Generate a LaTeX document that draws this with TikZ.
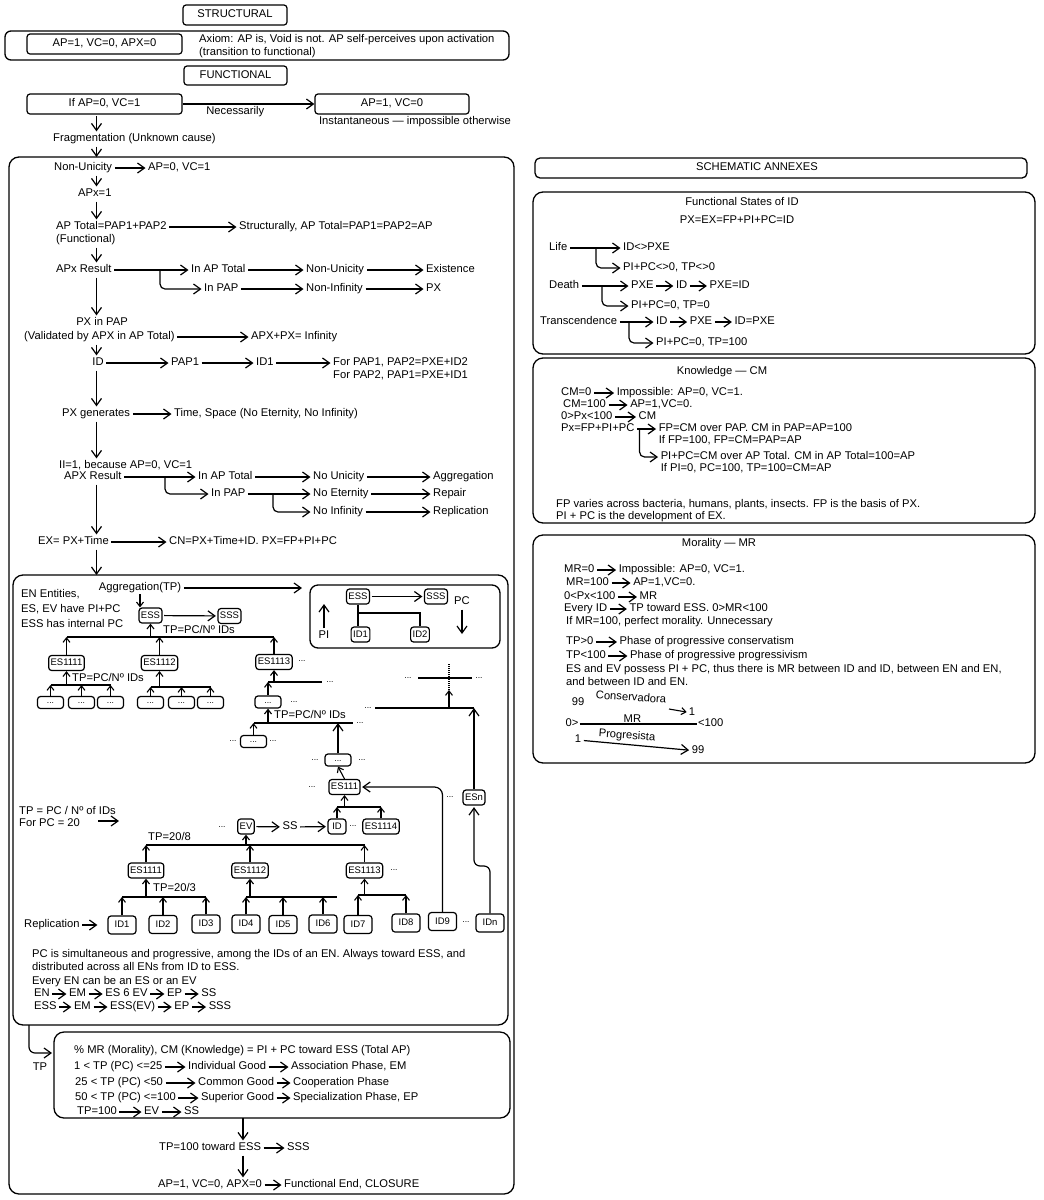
\documentclass[tikz,border=0pt]{standalone}
\usepackage{fontspec}
\setmainfont{Liberation Sans}
\usetikzlibrary{arrows.meta,positioning}

\tikzset{
  txt/.style={anchor=west, inner sep=1pt, text height=7.8pt, text depth=2pt},
  ctxt/.style={inner sep=1pt, text height=7.8pt, text depth=2pt},
  more/.style={inner sep=1pt, font=\fontsize{8.5}{9}\selectfont},
  box/.style={draw, line width=1.2pt, rounded corners=3pt, inner sep=2pt, text height=7.8pt, text depth=2pt},
  idbox/.style={box, font=\fontsize{9.5}{10}\selectfont, text height=6.8pt, text depth=1.5pt, minimum height=15pt},
  idrow/.style={idbox, minimum width=28pt, minimum height=18pt},
  dotbox/.style={box, font=\fontsize{8.5}{9}\selectfont, text height=2pt, text depth=0pt, minimum width=26pt, minimum height=12pt},
  frame/.style={draw, line width=1.3pt, rounded corners=10pt},
  arr/.style={line width=1.2pt, -{Straight Barb[length=7pt, width=10pt]}, shorten >=1.5pt, shorten <=1.5pt},
  tip/.style={line width=1.1pt, -{Straight Barb[length=4.5pt, width=7pt]}},
  bus/.style={line width=1.6pt}
}

\begin{document}
\begin{tikzpicture}[x=1pt, y=-1pt, font=\fontsize{11.2}{12}\selectfont]

        \useasboundingbox (0,0) rectangle (1044,1200);

        % Strukturell
        \node [box, minimum width=104pt, minimum height=20pt] (struct) at (235,15) {STRUCTURAL};
        \draw [frame, rounded corners=6pt] (5,31) rectangle (509,60);
        \node [box, minimum width=155pt, minimum height=20pt] (axbox) at (104.5,44) {AP=1, VC=0, APX=0};
        \node [txt] (axiom) at (198,40) {Axiom: AP is, Void is not. AP self-perceives upon activation};
        \node [txt] (axiomb) at (198,53) {(transition to functional)};

        % Funktional
        \node [box, minimum width=103pt, minimum height=19pt] (func) at (235.5,75.5) {FUNCTIONAL};
        \node [box, minimum width=155pt, minimum height=20pt] (ifap) at (104.5,104) {If AP=0, VC=1};
        \node [box, minimum width=154pt, minimum height=20pt] (apone) at (392,104) {AP=1, VC=0};
        \draw [arr, shorten <=0pt, shorten >=0pt] (ifap) -- (apone) node [ctxt, pos=0.4, below=1pt] (necess) {Necessarily};
        \node [ctxt] (instant) at (415,122) {Instantaneous — impossible otherwise};

        \coordinate (col) at (96.5,0);
        \node [txt] (frag) at (52,139) {Fragmentation (Unknown cause)};
        \draw [arr] (ifap.south -| col) -- (frag.north -| col);
        \coordinate (ftop) at (96.5,157);
        \draw [arr, shorten >=0pt] (frag.south -| col) -- (ftop);

        % grosser Rahmen
        \draw [frame] (9,157) rectangle (514,1194);

        \node [txt] (nonun) at (53,168) {Non-Unicity};
        \node [txt] (apzero) at (147,168) {AP=0, VC=1};
        \draw [arr] (nonun) -- (apzero);
        \node [txt] (apx) at (77,194) {APx=1};
        \draw [arr] (nonun.south -| col) -- (apx.north -| col);

        \node [txt] (aptot) at (55,227) {AP Total=PAP1+PAP2};
        \node [txt] (functl) at (55,240) {(Functional)};
        \node [txt] (structly) at (238,227) {Structurally, AP Total=PAP1=PAP2=AP};
        \draw [arr] (apx.south -| col) -- (aptot.north -| col);
        \draw [arr] (aptot) -- (structly);

        \node [txt] (apxres) at (55,270) {APx Result};
        \draw [arr] (functl.south -| col) -- (apxres.north -| col);
        \node [txt] (inaptot) at (190,270) {In AP Total};
        \node [txt] (nonunb) at (305,270) {Non-Unicity};
        \node [txt] (exist) at (425,270) {Existence};
        \draw [arr] (apxres) -- (inaptot);
        \draw [arr] (inaptot) -- (nonunb);
        \draw [arr] (nonunb) -- (exist);
        \coordinate (brA) at (160,270);
        \node [txt] (inpap) at (203,289) {In PAP};
        \node [txt] (noninf) at (305,289) {Non-Infinity};
        \node [txt] (pxa) at (425,289) {PX};
        \draw [arr, rounded corners=5pt, shorten <=0pt] (brA) |- (inpap.west);
        \draw [arr] (inpap) -- (noninf);
        \draw [arr] (noninf) -- (pxa);

        \node [ctxt] (pxpap) at (102,323) {PX in PAP};
        \node [txt] (valid) at (23,337) {(Validated by APX in AP Total)};
        \node [txt] (infty) at (250,337) {APX+PX= Infinity};
        \draw [arr] (apxres.south -| col) -- (pxpap.north -| col);
        \draw [arr] (valid) -- (infty);

        \node [ctxt] (idm) at (98,363) {ID};
        \node [txt] (papone) at (170,363) {PAP1};
        \node [txt] (idone) at (255,363) {ID1};
        \node [txt] (forpa) at (332,363) {For PAP1, PAP2=PXE+ID2};
        \node [txt] (forpb) at (332,376) {For PAP2, PAP1=PXE+ID1};
        \draw [arr] (valid.south -| col) -- (idm.north -| col);
        \draw [arr] (idm) -- (papone);
        \draw [arr] (papone) -- (idone);
        \draw [arr] (idone) -- (forpa);

        \node [txt] (pxgen) at (61,414) {PX generates};
        \node [txt] (tspace) at (173,414) {Time, Space (No Eternity, No Infinity)};
        \draw [arr] (idm.south -| col) -- (pxgen.north -| col);
        \draw [arr] (pxgen) -- (tspace);

        \node [txt] (iione) at (58,466) {II=1, because AP=0, VC=1};
        \node [txt] (apxresb) at (63,477) {APX Result};
        \draw [arr] (pxgen.south -| col) -- (iione.north -| col);
        \node [txt] (inaptotb) at (197,477) {In AP Total};
        \node [txt] (nouni) at (312,477) {No Unicity};
        \node [txt] (aggr) at (432,477) {Aggregation};
        \draw [arr] (apxresb) -- (inaptotb);
        \draw [arr] (inaptotb) -- (nouni);
        \draw [arr] (nouni) -- (aggr);
        \coordinate (brB) at (165,477);
        \node [txt] (inpapb) at (210,494) {In PAP};
        \node [txt] (noeter) at (312,494) {No Eternity};
        \node [txt] (repair) at (432,494) {Repair};
        \draw [arr, rounded corners=5pt, shorten <=0pt] (brB) |- (inpapb.west);
        \draw [arr] (inpapb) -- (noeter);
        \draw [arr] (noeter) -- (repair);
        \coordinate (brC) at (273,494);
        \node [txt] (noinf) at (312,512) {No Infinity};
        \node [txt] (replic) at (432,512) {Replication};
        \draw [arr, rounded corners=5pt, shorten <=0pt] (brC) |- (noinf.west);
        \draw [arr] (noinf) -- (replic);

        \node [txt] (expx) at (37,542) {EX= PX+Time};
        \node [txt] (cnpx) at (168,542) {CN=PX+Time+ID. PX=FP+PI+PC};
        \draw [arr] (apxresb.south -| col) -- (expx.north -| col);
        \draw [arr] (expx) -- (cnpx);
        \coordinate (agtop) at (96.5,575);
        \draw [arr, shorten >=0pt] (expx.south -| col) -- (agtop);

        % Aggregation
        \draw [frame] (13,575) rectangle (508,1025);
        \node [ctxt] (aggtp) at (140,588) {Aggregation(TP)};
        \coordinate (pcin) at (302,588);
        \draw [arr, shorten >=0pt] (aggtp) -- (pcin);
        \node [txt] (enent) at (20,595) {EN Entities,};
        \node [txt] (eshave) at (20,610) {ES, EV have PI+PC};
        \node [txt] (essint) at (20,625) {ESS has internal PC};
        \node [idbox] (ess) at (150.5,615.5) {ESS};
        \node [idbox] (sss) at (229.5,616) {SSS};
        \draw [tip] (aggtp.south) -- (aggtp.south |- ess.north);
        \draw [arr] (ess) -- (sss);

        % erste Ebene
        \coordinate (busa) at (0,637);
        \node [idbox] (esa) at (66.5,663) {ES1111};
        \node [idbox] (esb) at (159.5,663) {ES1112};
        \node [idbox] (esc) at (274,662) {ES1113};
        \node [more] (moa) at (302,661) {...};
        \foreach \kid in {esa,esb,esc}
            \draw [tip] (\kid.north) -- (\kid.north |- busa);
        \draw [bus] (esa.north |- busa) -- (esc.north |- busa);
        \draw [tip] (ess.south |- busa) -- (ess.south);
        \node [txt] (tpa) at (162,631) {TP=PC/Nº IDs};

        \coordinate (busb) at (0,685);
        \node [dotbox] (da) at (50.5,702.5) {...};
        \node [dotbox] (db) at (81.5,702.5) {...};
        \node [dotbox] (dc) at (110.5,702.5) {...};
        \foreach \kid in {da,db,dc}
            \draw [tip] (\kid.north) -- (\kid.north |- busb);
        \draw [bus] (da.north |- busb) -- (dc.north |- busb);
        \draw [tip] (esa.south |- busb) -- (esa.south);
        \node [txt] (tpb) at (71,679) {TP=PC/Nº IDs};

        \coordinate (busc) at (0,687);
        \node [dotbox] (dd) at (150.5,702.5) {...};
        \node [dotbox] (de) at (181.5,702.5) {...};
        \node [dotbox] (df) at (210.5,702.5) {...};
        \foreach \kid in {dd,de,df}
            \draw [tip] (\kid.north) -- (\kid.north |- busc);
        \draw [bus] (dd.north |- busc) -- (df.north |- busc);
        \draw [tip] (esb.south |- busc) -- (esb.south);

        \coordinate (busd) at (0,682);
        \coordinate (busde) at (322,682);
        \node [dotbox] (dg) at (268,702) {...};
        \node [more] (mob) at (294,702) {...};
        \node [more] (moc) at (330,682) {...};
        \draw [tip] (dg.north) -- (dg.north |- busd);
        \draw [bus] (dg.north |- busd) -- (busde);
        \draw [tip] (esc.south |- busd) -- (esc.south);

        \coordinate (buse) at (0,723);
        \coordinate (busee) at (353,723);
        \node [more] (mod) at (360,723) {...};
        \node [txt] (tpc) at (273,716) {TP=PC/Nº IDs};
        \node [dotbox] (dh) at (253.5,741.5) {...};
        \node [more] (moe) at (233,741) {...};
        \node [more] (mof) at (273,741) {...};
        \node [dotbox] (di) at (338,760) {...};
        \node [more] (mog) at (315,760) {...};
        \node [more] (moh) at (362,760) {...};
        \draw [tip] (dh.north) -- (dh.north |- buse);
        \draw [bus] (dh.north |- buse) -- (busee);
        \draw [tip] (dg.south |- buse) -- (dg.south);
        \draw [arr, shorten <=0pt, shorten >=0pt] (di.north) -- (di.north |- buse);

        \node [idbox] (esm) at (344.5,787) {ES111};
        \node [more] (moi) at (312,787) {...};
        \draw [tip] (esm.north) -- (di.south);

        \coordinate (busf) at (0,807);
        \node [idbox, minimum width=18pt] (idq) at (337,826.5) {ID};
        \node [more] (moj) at (353,826) {...};
        \node [idbox] (esq) at (381,826.5) {ES1114};
        \foreach \kid in {idq,esq}
            \draw [tip] (\kid.north) -- (\kid.north |- busf);
        \draw [bus] (idq.north |- busf) -- (esq.north |- busf);
        \draw [tip] (esm.south |- busf) -- (esm.south);

        \node [more] (mok) at (222,827) {...};
        \node [idbox] (ev) at (246,826.5) {EV};
        \node [ctxt] (ssq) at (290,827) {SS};
        \draw [arr] (ev) -- (ssq);
        \draw [arr] (ssq) -- (idq);

        % Beispiel PC = 20
        \node [txt] (tpform) at (18,812) {TP = PC / Nº of IDs};
        \node [txt] (forpc) at (18,824) {For PC = 20};
        \coordinate (forpcs) at (98,821);
        \coordinate (forpce) at (119,821);
        \draw [arr, shorten <=0pt, shorten >=0pt] (forpcs) -- (forpce);

        \coordinate (busg) at (0,845);
        \node [txt] (tpd) at (147,838) {TP=20/8};
        \node [idbox] (esd) at (146,870.5) {ES1111};
        \node [idbox] (ese) at (250,870.5) {ES1112};
        \node [idbox] (esf) at (364.5,870.5) {ES1113};
        \node [more] (mol) at (394,870) {...};
        \foreach \kid in {esd,ese,esf}
            \draw [tip] (\kid.north) -- (\kid.north |- busg);
        \draw [bus] (esd.north |- busg) -- (esf.north |- busg);
        \draw [tip] (ev.south |- busg) -- (ev.south);

        % Replikation
        \node [idrow] (ida) at (122,925) {ID1};
        \node [idrow] (idb) at (163,924.5) {ID2};
        \node [idrow] (idc) at (206,924) {ID3};
        \node [idrow] (idd) at (246,924) {ID4};
        \node [idrow] (ide) at (283,924.5) {ID5};
        \node [idrow] (idf) at (323,924) {ID6};
        \node [idrow] (idg) at (358,924.5) {ID7};
        \node [idrow] (idh) at (406,923) {ID8};
        \node [idrow] (idi) at (442.5,921.5) {ID9};
        \node [more] (mom) at (466,922) {...};
        \node [idrow] (idj) at (490,923) {IDn};
        \node [txt] (replab) at (23,925) {Replication};
        \draw [arr, shorten >=10pt] (replab) -- (ida);

        \coordinate (bush) at (0,897);
        \foreach \kid in {ida,idb,idc}
            \draw [tip] (\kid.north) -- (\kid.north |- bush);
        \draw [bus] (ida.north |- bush) -- (idc.north |- bush);
        \draw [tip] (esd.south |- bush) -- (esd.south);
        \node [txt] (tpe) at (152,889) {TP=20/3};

        \coordinate (busie) at (337,897);
        \foreach \kid in {idd,ide,idf}
            \draw [tip] (\kid.north) -- (\kid.north |- bush);
        \draw [bus] (idd.north |- bush) -- (busie);
        \draw [tip] (ese.south |- bush) -- (ese.south);

        \coordinate (busj) at (0,895);
        \foreach \kid in {idg,idh}
            \draw [tip] (\kid.north) -- (\kid.north |- busj);
        \draw [bus] (idg.north |- busj) -- (idh.north |- busj);
        \draw [tip] (esf.south |- busj) -- (esf.south);

        \draw [arr, rounded corners=8pt, shorten <=0pt] (idi.north) |- (esm.east);

        % ESn Zweig
        \node [idbox] (esn) at (474,797.5) {ESn};
        \node [more] (mon) at (450,797) {...};
        \coordinate (bendn) at (490,866);
        \draw [arr, rounded corners=6pt, shorten <=0pt] (idj.north) -- (bendn) -| (esn.south);
        \coordinate (busk) at (0,708);
        \coordinate (buskw) at (375,708);
        \node [more] (moo) at (368,708) {...};
        \draw [arr, shorten <=0pt, shorten >=0pt] (esn.north) -- (esn.north |- busk);
        \draw [bus] (buskw) -- (esn.north |- busk);
        \coordinate (upk) at (449,708);
        \coordinate (upkt) at (449,690);
        \coordinate (dotk) at (449,664);
        \draw [tip] (upk) -- (upkt);
        \draw [densely dotted, line width=1.1pt] (upkt) -- (dotk);
        \coordinate (hkw) at (418,678);
        \coordinate (hke) at (472,678);
        \draw [bus] (hkw) -- (hke);
        \node [more] (mop) at (408,678) {...};
        \node [more] (moq) at (479,678) {...};

        % Schema ESS / PI / PC
        \draw [frame, rounded corners=8pt] (310,585) rectangle (500,648);
        \node [idbox] (essr) at (358,596.5) {ESS};
        \node [idbox] (sssr) at (436,596.5) {SSS};
        \draw [arr] (essr) -- (sssr);
        \node [ctxt] (pclab) at (462,602) {PC};
        \coordinate (pcend) at (462,634);
        \draw [arr, shorten >=0pt] (pclab) -- (pcend);
        \node [ctxt] (pilab) at (324,636) {PI};
        \coordinate (pitop) at (324,604);
        \draw [arr, shorten >=0pt] (pilab) -- (pitop);
        \node [idbox] (idra) at (360.5,634.5) {ID1};
        \node [idbox] (idrb) at (420,634.5) {ID2};
        \coordinate (joinr) at (0,613);
        \draw [line width=1.2pt] (essr.south) -- (essr.south |- idra.north);
        \draw [line width=1.2pt] (essr.south |- joinr) -| (idrb.north);

        % Text unten im Rahmen
        \node [txt] (pcsim) at (31,955) {PC is simultaneous and progressive, among the IDs of an EN. Always toward ESS, and};
        \node [txt] (pcdist) at (31,968) {distributed across all ENs from ID to ESS.};
        \node [txt] (everyen) at (31,982) {Every EN can be an ES or an EV};
        \node [txt] (cha) at (33,994) {EN};
        \node [txt, right=17pt of cha] (chb) {EM};
        \node [txt, right=17pt of chb] (chc) {ES 6 EV};
        \node [txt, right=17pt of chc] (chd) {EP};
        \node [txt, right=17pt of chd] (che) {SS};
        \draw [arr] (cha) -- (chb);
        \draw [arr] (chb) -- (chc);
        \draw [arr] (chc) -- (chd);
        \draw [arr] (chd) -- (che);
        \node [txt] (cia) at (33,1007) {ESS};
        \node [txt, right=15pt of cia] (cib) {EM};
        \node [txt, right=17pt of cib] (cic) {ESS(EV)};
        \node [txt, right=17pt of cic] (cid) {EP};
        \node [txt, right=17pt of cid] (cie) {SSS};
        \draw [arr] (cia) -- (cib);
        \draw [arr] (cib) -- (cic);
        \draw [arr] (cic) -- (cid);
        \draw [arr] (cid) -- (cie);

        % TP Phasen
        \coordinate (tpstart) at (29,1025);
        \coordinate (lowin) at (52,1053);
        \draw [arr, rounded corners=6pt, shorten <=0pt, shorten >=0pt] (tpstart) |- (lowin);
        \node [ctxt] (tplab) at (40,1068) {TP};
        \draw [frame] (54,1032) rectangle (510,1118);
        \node [txt] (mrcm) at (73,1051) {\% MR (Morality), CM (Knowledge) = PI + PC toward ESS (Total AP)};
        \node [txt] (pha) at (73,1067) {1 < TP (PC) <=25};
        \node [txt] (phb) at (187,1067) {Individual Good};
        \node [txt] (phc) at (290,1067) {Association Phase, EM};
        \node [txt] (pca) at (74,1083) {25 < TP (PC) <50};
        \node [txt] (pcb) at (197,1083) {Common Good};
        \node [txt] (pcc) at (292,1083) {Cooperation Phase};
        \node [txt] (psa) at (74,1098) {50 < TP (PC) <=100};
        \node [txt] (psb) at (200,1098) {Superior Good};
        \node [txt] (psc) at (292,1098) {Specialization Phase, EP};
        \node [txt] (pta) at (76,1112) {TP=100};
        \node [txt] (ptb) at (143,1112) {EV};
        \node [txt] (ptc) at (183,1112) {SS};
        \draw [arr] (pha) -- (phb);
        \draw [arr] (phb) -- (phc);
        \draw [arr] (pca) -- (pcb);
        \draw [arr] (pcb) -- (pcc);
        \draw [arr] (psa) -- (psb);
        \draw [arr] (psb) -- (psc);
        \draw [arr] (pta) -- (ptb);
        \draw [arr] (ptb) -- (ptc);

        \coordinate (lowbot) at (243,1118);
        \node [txt] (tphun) at (158,1148) {TP=100 toward ESS};
        \node [txt] (sssend) at (286,1148) {SSS};
        \draw [arr, shorten <=0pt] (lowbot) -- (lowbot |- tphun.north);
        \draw [arr] (tphun) -- (sssend);
        \node [txt] (closa) at (157,1185) {AP=1, VC=0, APX=0};
        \node [txt] (closb) at (283,1185) {Functional End, CLOSURE};
        \draw [arr] (tphun.south -| lowbot) -- (closa.north -| lowbot);
        \draw [arr] (closa) -- (closb);

        % Anhang
        \draw [frame, rounded corners=5pt] (535,158) rectangle (1027,178);
        \node [ctxt] (annex) at (757,168) {SCHEMATIC ANNEXES};

        % Funktionale Zustaende
        \draw [frame] (533,192) rectangle (1035,354);
        \node [ctxt] (fstit) at (742,203) {Functional States of ID};
        \node [ctxt] (fsform) at (737,221) {PX=EX=FP+PI+PC=ID};
        \node [txt] (life) at (548,248) {Life};
        \node [txt] (lifea) at (622,248) {ID<>PXE};
        \node [txt] (lifeb) at (622,268) {PI+PC<>0, TP<>0};
        \coordinate (brL) at (596,248);
        \draw [arr] (life) -- (lifea);
        \draw [arr, rounded corners=5pt, shorten <=0pt] (brL) |- (lifeb.west);
        \node [txt] (death) at (548,286) {Death};
        \node [txt] (deatha) at (630,286) {PXE};
        \node [txt, right=20pt of deatha] (deathb) {ID};
        \node [txt, right=20pt of deathb] (deathc) {PXE=ID};
        \node [txt] (deathd) at (630,306) {PI+PC=0, TP=0};
        \coordinate (brD) at (602,286);
        \draw [arr] (death) -- (deatha);
        \draw [arr] (deatha) -- (deathb);
        \draw [arr] (deathb) -- (deathc);
        \draw [arr, rounded corners=5pt, shorten <=0pt] (brD) |- (deathd.west);
        \node [txt] (trans) at (539,322) {Transcendence};
        \node [txt] (transa) at (655,322) {ID};
        \node [txt, right=20pt of transa] (transb) {PXE};
        \node [txt, right=20pt of transb] (transc) {ID=PXE};
        \node [txt] (transd) at (655,343) {PI+PC=0, TP=100};
        \coordinate (brT) at (629,322);
        \draw [arr] (trans) -- (transa);
        \draw [arr] (transa) -- (transb);
        \draw [arr] (transb) -- (transc);
        \draw [arr, rounded corners=5pt, shorten <=0pt] (brT) |- (transd.west);

        % Wissen
        \draw [frame] (533,358) rectangle (1035,523);
        \node [ctxt] (kntit) at (722,372) {Knowledge — CM};
        \node [txt] (cmz) at (560,393) {CM=0};
        \node [txt, right=23pt of cmz] (cmzb) {Impossible: AP=0, VC=1.};
        \node [txt] (cmh) at (562,405) {CM=100};
        \node [txt, right=22pt of cmh] (cmhb) {AP=1,VC=0.};
        \node [txt] (cmpx) at (560,417) {0>Px<100};
        \node [txt, right=24pt of cmpx] (cmpxb) {CM};
        \node [txt] (cmfp) at (560,429) {Px=FP+PI+PC};
        \node [txt, right=22pt of cmfp] (cmfpb) {FP=CM over PAP. CM in PAP=AP=100};
        \node [txt] (cmif) at (cmfpb.west |- 0,441) {If FP=100, FP=CM=PAP=AP};
        \node [txt] (cmpi) at ([xshift=2pt]cmfpb.west |- 0,457) {PI+PC=CM over AP Total. CM in AP Total=100=AP};
        \node [txt] (cmifpi) at ([xshift=2pt]cmfpb.west |- 0,469) {If PI=0, PC=100, TP=100=CM=AP};
        \coordinate (brK) at ([xshift=4pt]cmfp.east);
        \draw [arr] (cmz) -- (cmzb);
        \draw [arr] (cmh) -- (cmhb);
        \draw [arr] (cmpx) -- (cmpxb);
        \draw [arr] (cmfp) -- (cmfpb);
        \draw [arr, rounded corners=5pt, shorten <=0pt] (brK) |- (cmpi.west);
        \node [txt] (fpvar) at (555,505) {FP varies across bacteria, humans, plants, insects. FP is the basis of PX.};
        \node [txt] (pidev) at (555,517) {PI + PC is the development of EX.};

        % Moral
        \draw [frame] (533,535) rectangle (1035,763);
        \node [ctxt] (mortit) at (719,544) {Morality — MR};
        \node [txt] (mrz) at (563,570) {MR=0};
        \node [txt, right=22pt of mrz] (mrzb) {Impossible: AP=0, VC=1.};
        \node [txt] (mrh) at (565,583) {MR=100};
        \node [txt, right=22pt of mrh] (mrhb) {AP=1,VC=0.};
        \node [txt] (mrpx) at (563,597) {0<Px<100};
        \node [txt, right=22pt of mrpx] (mrpxb) {MR};
        \node [txt] (mrev) at (563,609) {Every ID};
        \node [txt, right=20pt of mrev] (mrevb) {TP toward ESS. 0>MR<100};
        \node [txt] (mrif) at (565,622) {If MR=100, perfect morality. Unnecessary};
        \node [txt] (tpgt) at (565,642) {TP>0};
        \node [txt, right=24pt of tpgt] (tpgtb) {Phase of progressive conservatism};
        \node [txt] (tplt) at (565,656) {TP<100};
        \node [txt, right=22pt of tplt] (tpltb) {Phase of progressive progressivism};
        \draw [arr] (mrz) -- (mrzb);
        \draw [arr] (mrh) -- (mrhb);
        \draw [arr] (mrpx) -- (mrpxb);
        \draw [arr] (mrev) -- (mrevb);
        \draw [arr] (tpgt) -- (tpgtb);
        \draw [arr] (tplt) -- (tpltb);
        \node [txt] (esevp) at (565,670) {ES and EV possess PI + PC, thus there is MR between ID and ID, between EN and EN,};
        \node [txt] (esevq) at (565,683) {and between ID and EN.};

        % Skala
        \node [ctxt] (nnc) at (578,703) {99};
        \node [ctxt, rotate=-4] (cons) at (631,698) {Conservadora};
        \node [ctxt] (onec) at (692,713) {1};
        \coordinate (consa) at (669,709);
        \draw [tip, shorten >=1pt] (consa) -- (onec);
        \node [ctxt] (zero) at (572,724) {0>};
        \node [txt] (lth) at (697,724) {<100};
        \draw [line width=1.2pt] (zero) -- (lth) node [ctxt, pos=0.45, above=-2pt] (mrlab) {MR};
        \node [ctxt] (onep) at (578,740) {1};
        \node [ctxt, rotate=-4] (prog) at (627,736) {Progresista};
        \node [ctxt] (nnp) at (698,751) {99};
        \draw [arr] (onep) -- (nnp);

\end{tikzpicture}
\end{document}
